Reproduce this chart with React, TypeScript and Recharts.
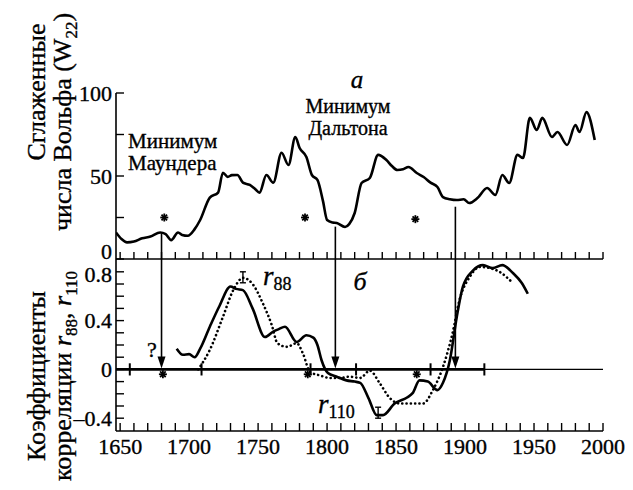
import { ComposedChart, Line, XAxis, YAxis, ReferenceLine, Scatter } from 'recharts';

const FONT = "'Liberation Serif', 'DejaVu Serif', 'Times New Roman', serif";
const W = 633;
const H = 490;

// smoothed Wolf numbers W22 (panel a)
const wolfYears = [
  1647, 1651, 1655, 1660, 1666, 1672, 1679, 1683, 1687, 1692, 1695, 1699, 1704, 1708,
  1715, 1721, 1724.5, 1728, 1731, 1735, 1739, 1744, 1748, 1751, 1756, 1761, 1767, 1772,
  1777, 1780, 1785, 1789, 1793, 1797, 1800, 1804, 1807, 1813, 1816, 1820, 1825, 1831,
  1837, 1843, 1847, 1851, 1855, 1859, 1865, 1870, 1875, 1880, 1884, 1889, 1894, 1899,
  1903, 1909, 1916, 1922, 1927, 1932, 1938, 1942, 1947, 1952, 1956, 1963, 1967, 1974,
  1980, 1983, 1988, 1994,
];
const wolfValues = [
  16, 12, 10, 10.5, 12.5, 13.5, 16, 15, 11.4, 16, 14.5, 14, 18, 23.5,
  37, 40, 52, 49.5, 50.5, 50.6, 46, 44.6, 42, 40, 50.6, 46, 64, 56.6,
  73.5, 67, 61.5, 50.6, 47.6, 35, 23.5, 22, 21.7, 19.3, 21, 27.7, 45.8, 48.8,
  62.7, 59.6, 56, 53.6, 54, 55.4, 51.8, 49.4, 46, 43.4, 37.3, 36, 35.5, 36,
  33.7, 36.7, 42.8, 38.6, 50.6, 45.8, 62.7, 60.8, 85, 77.7, 85, 73.5, 76.5, 68.7,
  80.7, 76.5, 88.5, 71.7,
];

// correlation r110 (solid)
const r110Years = [
  1691, 1695.5, 1700, 1704, 1708, 1715, 1722, 1730, 1734, 1739, 1746, 1755, 1761, 1765,
  1769.5, 1778, 1785, 1790, 1793, 1796, 1800.6, 1807, 1814, 1820, 1824, 1830, 1836,
  1840.5, 1849, 1858, 1862, 1867, 1873, 1880, 1884, 1889, 1894, 1898.5, 1905.7, 1913,
  1920, 1927, 1934.7, 1941, 1945.5,
];
const r110Values = [
  0.17, 0.12, 0.125, 0.1, 0.17, 0.35, 0.52, 0.68, 0.66, 0.65, 0.5, 0.265, 0.31, 0.33,
  0.35, 0.225, 0.28, 0.26, 0.2, 0.075, -0.03, -0.06, -0.09, -0.1, -0.11, -0.235, -0.375,
  -0.375, -0.28, -0.23, -0.195, -0.09, -0.1, -0.17, -0.11, 0.075, 0.43, 0.68, 0.81, 0.855,
  0.83, 0.855, 0.79, 0.71, 0.62,
];

// correlation r88 (dotted)
const r88Years = [
  1706.6, 1715, 1724.5, 1732, 1739, 1746, 1753.5, 1760, 1764, 1771, 1778, 1782.5, 1787.6,
  1795, 1802, 1809, 1816, 1824, 1831, 1838, 1845.5, 1853, 1862, 1869.5, 1876.7, 1884,
  1891, 1896, 1903.5, 1910.8, 1918, 1925, 1934,
];
const r88Values = [
  0, 0.16, 0.43, 0.65, 0.75, 0.7, 0.54, 0.36, 0.215, 0.185, 0.215, 0.13, -0.02,
  -0.05, -0.07, -0.07, -0.06, -0.07, -0.01, -0.11, -0.235, -0.28, -0.28, -0.28, -0.17, 0.02,
  0.3, 0.57, 0.76, 0.84, 0.83, 0.8, 0.715,
];

const yearTicks = [
  1650, 1660, 1670, 1680, 1690, 1700, 1710, 1720, 1730, 1740, 1750, 1760, 1770, 1780,
  1790, 1800, 1810, 1820, 1830, 1840, 1850, 1860, 1870, 1880, 1890, 1900, 1910, 1920,
  1930, 1940, 1950, 1960, 1970, 1980, 1990, 2000,
];
const yearLabels = [1650, 1700, 1750, 1800, 1850, 1900, 1950, 2000];
const wolfTicks = [0, 25, 50, 75, 100];
const wolfLabels = [0, 50, 100];
const corrTicks = [-0.4, -0.3, -0.2, -0.1, 0, 0.1, 0.2, 0.3, 0.4, 0.5, 0.6, 0.7, 0.8];
const corrLabels = [0.8, 0.4, 0, -0.4];

// markers
const starTopYears = [1682, 1784, 1864];
const starTopValues = [25, 25, 24];
const starBottomYears = [1681, 1786, 1865];
const starBottomValues = [-0.04, -0.04, -0.04];
const arrowYears = [1680, 1806, 1893];
const arrowFrom = [15.5, 19.5, 31.5];
const zeroTickYears = [1657, 1709, 1788, 1821, 1875, 1914];
const errYears = [1739, 1837];
const errLow = [0.71, -0.4];
const errHigh = [0.8, -0.31];

const wolfData = wolfYears.map((year, i) => ({ year, w: wolfValues[i] }));
const r110Data = r110Years.map((year, i) => ({ year, r: r110Values[i] }));
const r88Data = r88Years.map((year, i) => ({ year, r: r88Values[i] }));
const starTop = starTopYears.map((year, i) => ({ year, w: starTopValues[i] }));
const starBottom = starBottomYears.map((year, i) => ({ year, r: starBottomValues[i] }));

const X_DOMAIN: [number, number] = [1647, 2000];
// slight stroke to mimic the heavier print of the original
const txt = { fontFamily: FONT, fill: '#000', stroke: '#000', strokeWidth: 0.35 };

function TopYearTick({ x, y }: any) {
  return <line x1={x} y1={y} x2={x} y2={y - 7} stroke="#000" strokeWidth={1.4} />;
}

function BottomYearTick({ x, y, payload }: any) {
  const v = payload.value;
  return (
    <g>
      <line x1={x} y1={y} x2={x} y2={y - 8} stroke="#000" strokeWidth={1.4} />
      {yearLabels.includes(v) && (
        <text x={x} y={y + 23} textAnchor="middle" fontSize={22} style={txt}>
          {v}
        </text>
      )}
    </g>
  );
}

function WolfTick({ x, y, payload }: any) {
  const v = payload.value;
  return (
    <g>
      <line x1={x} y1={y} x2={x + 8} y2={y} stroke="#000" strokeWidth={1.4} />
      {wolfLabels.includes(v) && (
        <text x={x - 4} y={v === 0 ? y - 8 : y} dy="0.35em" textAnchor="end" fontSize={22} style={txt}>
          {v}
        </text>
      )}
    </g>
  );
}

function CorrTick({ x, y, payload }: any) {
  const v = payload.value;
  const lab = corrLabels.find((c) => Math.abs(c - v) < 1e-6);
  return (
    <g>
      <line x1={x} y1={y} x2={x + 8} y2={y} stroke="#000" strokeWidth={1.4} />
      {lab !== undefined && (
        <text x={x - 4} y={lab === 0.8 ? y + 2 : y} dy="0.35em" textAnchor="end" fontSize={22} style={txt}>
          {lab < 0 ? '\u2013' + String(-lab) : String(lab)}
        </text>
      )}
    </g>
  );
}

function Asterisk({ cx, cy }: any) {
  const r = 4;
  const d = r * 0.7;
  return (
    <g stroke="#000" strokeWidth={1.8}>
      <line x1={cx - r} y1={cy} x2={cx + r} y2={cy} />
      <line x1={cx} y1={cy - r} x2={cx} y2={cy + r} />
      <line x1={cx - d} y1={cy - d} x2={cx + d} y2={cy + d} />
      <line x1={cx - d} y1={cy + d} x2={cx + d} y2={cy - d} />
    </g>
  );
}

function ArrowDown({ x1, y1, x2, y2 }: any) {
  return (
    <g>
      <line x1={x1} y1={y1} x2={x2} y2={y2 - 8} stroke="#000" strokeWidth={1.6} />
      <path d={`M${x2 - 4},${y2 - 13} L${x2 + 4},${y2 - 13} L${x2},${y2 - 1} Z`} fill="#000" />
    </g>
  );
}

function IBeam({ x1, y1, x2, y2 }: any) {
  return (
    <g stroke="#000" strokeWidth={1.4}>
      <line x1={x1} y1={y1} x2={x2} y2={y2} />
      <line x1={x1 - 3} y1={y1} x2={x1 + 3} y2={y1} />
      <line x1={x2 - 3} y1={y2} x2={x2 + 3} y2={y2} />
    </g>
  );
}

const layer: React.CSSProperties = { position: 'absolute', left: 0, top: 0 };

export default function App() {
  return (
    <div style={{ position: 'absolute', left: 0, top: 0, width: W, height: H, background: '#fff', overflow: 'hidden' }}>
      {/* panel a */}
      <div style={layer}>
        <ComposedChart width={W} height={H} margin={{ top: 93, right: 30, bottom: 201, left: 66 }}>
          <XAxis
            type="number"
            dataKey="year"
            domain={X_DOMAIN}
            allowDataOverflow
            ticks={yearTicks}
            interval={0}
            height={30}
            tickSize={0}
            tickMargin={0}
            tickLine={false}
            tick={TopYearTick}
            axisLine={{ stroke: '#000', strokeWidth: 1.6 }}
          />
          <YAxis
            domain={[0, 100]}
            allowDataOverflow
            ticks={wolfTicks}
            interval={0}
            width={50}
            tickSize={0}
            tickMargin={0}
            tickLine={false}
            tick={WolfTick}
            axisLine={{ stroke: '#000', strokeWidth: 1.6 }}
          />
          {arrowYears.map((yr, i) => (
            <ReferenceLine
              key={yr}
              segment={[{ x: yr, y: arrowFrom[i] }, { x: yr, y: 0 }]}
              stroke="#000"
              strokeWidth={1.6}
            />
          ))}
          <Line data={wolfData} dataKey="w" type="monotone" stroke="#000" strokeWidth={2.6} dot={false} activeDot={false} isAnimationActive={false} />
          <Scatter data={starTop} dataKey="w" shape={Asterisk} isAnimationActive={false} />
        </ComposedChart>
      </div>

      {/* panel б */}
      <div style={layer}>
        <ComposedChart width={W} height={H} margin={{ top: 259, right: 30, bottom: 29, left: 66 }}>
          <XAxis
            type="number"
            dataKey="year"
            domain={X_DOMAIN}
            allowDataOverflow
            ticks={yearTicks}
            interval={0}
            height={30}
            tickSize={0}
            tickMargin={0}
            tickLine={false}
            tick={BottomYearTick}
            axisLine={{ stroke: '#000', strokeWidth: 1.6 }}
          />
          <YAxis
            domain={[-0.505, 0.905]}
            allowDataOverflow
            ticks={corrTicks}
            interval={0}
            width={50}
            tickSize={0}
            tickMargin={0}
            tickLine={false}
            tick={CorrTick}
            axisLine={{ stroke: '#000', strokeWidth: 1.6 }}
          />
          <ReferenceLine y={0} stroke="#000" strokeWidth={1.2} />
          <ReferenceLine segment={[{ x: X_DOMAIN[0], y: 0 }, { x: zeroTickYears[zeroTickYears.length - 1], y: 0 }]} stroke="#000" strokeWidth={2.6} />
          {zeroTickYears.map((yr) => (
            <ReferenceLine key={yr} segment={[{ x: yr, y: -0.05 }, { x: yr, y: 0.05 }]} stroke="#000" strokeWidth={2} />
          ))}
          {arrowYears.map((yr) => (
            <ReferenceLine key={'a' + yr} segment={[{ x: yr, y: 0.905 }, { x: yr, y: 0 }]} shape={ArrowDown} />
          ))}
          {errYears.map((yr, i) => (
            <ReferenceLine key={'e' + yr} segment={[{ x: yr, y: errHigh[i] }, { x: yr, y: errLow[i] }]} shape={IBeam} />
          ))}
          <Line data={r88Data} dataKey="r" type="monotone" stroke="#000" strokeWidth={2.6} strokeDasharray="0.1 4.2" strokeLinecap="round" dot={false} activeDot={false} isAnimationActive={false} />
          <Line data={r110Data} dataKey="r" type="monotone" stroke="#000" strokeWidth={2.6} dot={false} activeDot={false} isAnimationActive={false} />
          <Scatter data={starBottom} dataKey="r" shape={Asterisk} isAnimationActive={false} />
        </ComposedChart>
      </div>

      {/* text annotations and axis titles */}
      <svg width={W} height={H} style={{ ...layer, pointerEvents: 'none', fontFamily: FONT }} fill="#000">
        <text x={128} y={148} fontSize={21} style={txt}>Минимум</text>
        <text x={128} y={170} fontSize={21} style={txt}>Маундера</text>
        <text x={348} y={113} fontSize={20} textAnchor="middle" style={txt}>Минимум</text>
        <text x={348} y={135} fontSize={20} textAnchor="middle" style={txt}>Дальтона</text>
        <text x={357} y={88} fontSize={25} fontStyle="italic" textAnchor="middle" style={txt}>а</text>
        <text x={360} y={290} fontSize={26} fontStyle="italic" textAnchor="middle" style={txt}>б</text>
        <text x={152} y={357} fontSize={22} textAnchor="middle" style={txt}>?</text>
        <text x={263} y={285} fontSize={27} style={txt}>
          <tspan fontStyle="italic">r</tspan>
          <tspan fontSize={18} dy={5}>88</tspan>
        </text>
        <text x={318} y={413} fontSize={27} style={txt}>
          <tspan fontStyle="italic">r</tspan>
          <tspan fontSize={18} dy={5}>110</tspan>
        </text>

        <text transform="translate(45,92) rotate(-90)" textAnchor="middle" fontSize={26} style={txt}>Сглаженные</text>
        <text transform="translate(71,122) rotate(-90)" textAnchor="middle" fontSize={26} style={txt}>
          числа Вольфа (W<tspan fontSize={17} dy={6}>22</tspan>
          <tspan dy={-6}>)</tspan>
        </text>
        <text transform="translate(45,376) rotate(-90)" textAnchor="middle" fontSize={26} style={txt}>Коэффициенты</text>
        <text transform="translate(71,376) rotate(-90)" textAnchor="middle" fontSize={26} style={txt}>
          корреляции <tspan fontStyle="italic">r</tspan>
          <tspan fontSize={17} dy={6}>88</tspan>
          <tspan dy={-6}>, </tspan>
          <tspan fontStyle="italic">r</tspan>
          <tspan fontSize={17} dy={6}>110</tspan>
        </text>
      </svg>
    </div>
  );
}
